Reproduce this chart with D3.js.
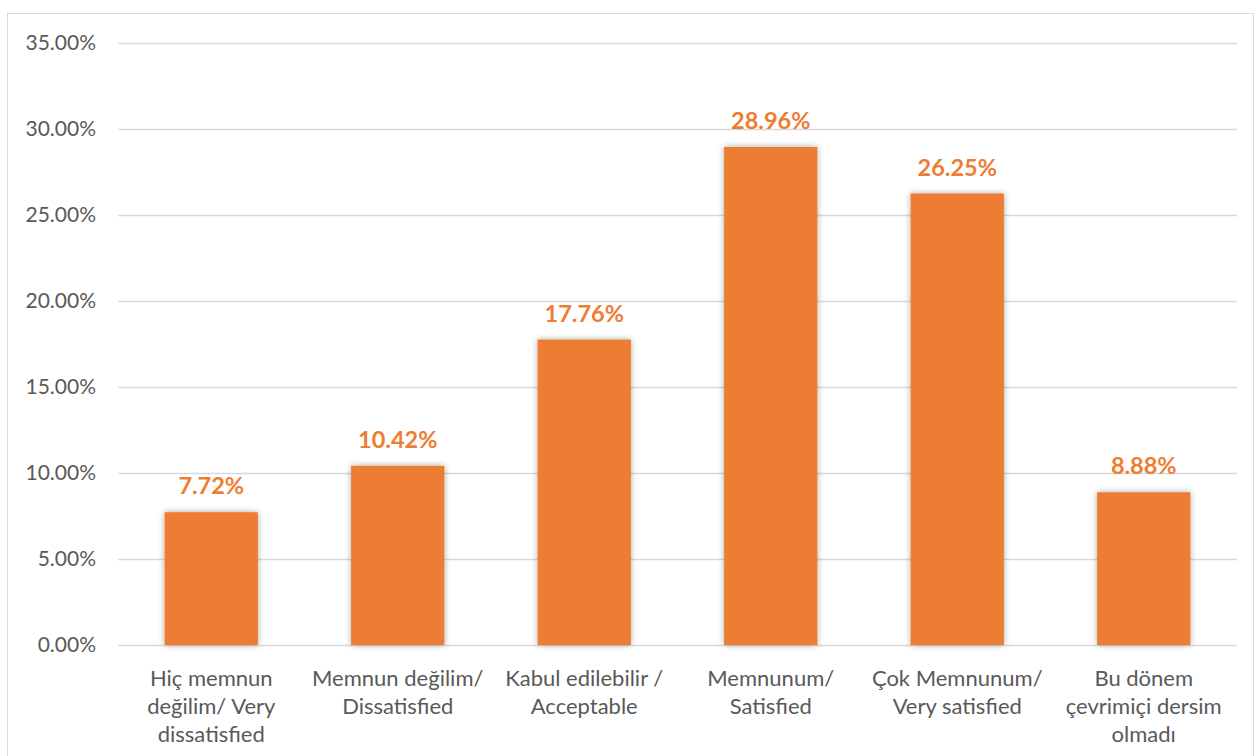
<!DOCTYPE html>
<html><head><meta charset="utf-8">
<script src="https://cdn.jsdelivr.net/npm/d3@7"></script>
<style>body{margin:0;background:#fff;} svg{display:block;}</style>
</head><body>
<svg id="c" width="1255" height="756"></svg>
<script>
const categories = [
  ["Hiç memnun", "değilim/ Very", "dissatisfied"],
  ["Memnun değilim/", "Dissatisfied"],
  ["Kabul edilebilir /", "Acceptable"],
  ["Memnunum/", "Satisfied"],
  ["Çok Memnunum/", "Very satisfied"],
  ["Bu dönem", "çevrimiçi dersim", "olmadı"]
];
const values = [7.72, 10.42, 17.76, 28.96, 26.25, 8.88];
const yTicks = [0, 5, 10, 15, 20, 25, 30, 35];

(function () {
const svg = d3.select("#c");
const font = "Lato, 'Open Sans', sans-serif";
const pLeft = 118, pRight = 1237, pTop = 43, pBottom = 645;

svg.append("rect").attr("x", 7.5).attr("y", 13.5).attr("width", 1246).attr("height", 750)
  .attr("fill", "#fff").attr("stroke", "#d9d9d9").attr("stroke-width", 1);

const defs = svg.append("defs");
const f = defs.append("filter").attr("id", "sh").attr("x", "-20%").attr("y", "-10%").attr("width", "140%").attr("height", "120%");
f.append("feGaussianBlur").attr("in", "SourceAlpha").attr("stdDeviation", 3).attr("result", "b");
f.append("feComponentTransfer").attr("in", "b").attr("result", "t")
  .append("feFuncA").attr("type", "linear").attr("slope", 0.35);
const m = f.append("feMerge");
m.append("feMergeNode").attr("in", "t");
m.append("feMergeNode").attr("in", "SourceGraphic");

const x = d3.scaleBand().domain(d3.range(categories.length)).range([pLeft, pRight]).paddingInner(0.5).paddingOuter(0.25);
const y = d3.scaleLinear().domain([0, 35]).range([pBottom, pTop]);

svg.append("g").selectAll("line").data(yTicks).join("line")
  .attr("x1", pLeft).attr("x2", pRight)
  .attr("y1", d => Math.round(y(d)) + 0.5).attr("y2", d => Math.round(y(d)) + 0.5)
  .attr("stroke", "#d9d9d9").attr("stroke-width", 1.3);

svg.append("g").selectAll("text").data(yTicks).join("text")
  .attr("x", 96).attr("y", d => y(d)).attr("dy", "0.35em")
  .attr("text-anchor", "end").attr("font-family", font).attr("font-size", 21).attr("fill", "#595959")
  .text(d => d.toFixed(2) + "%");

svg.append("g").selectAll("rect").data(values).join("rect")
  .attr("x", (d, i) => x(i)).attr("width", x.bandwidth())
  .attr("y", d => y(d)).attr("height", d => y(0) - y(d))
  .attr("fill", "#ED7D31").attr("filter", "url(#sh)");

svg.append("g").selectAll("text").data(values).join("text")
  .attr("x", (d, i) => x(i) + x.bandwidth() / 2).attr("y", d => y(d) - 18)
  .attr("text-anchor", "middle").attr("font-family", font).attr("font-size", 23.5).attr("font-weight", "bold")
  .attr("fill", "#ED7D31").text(d => d.toFixed(2) + "%");

const cg = svg.append("g").selectAll("text").data(categories).join("text")
  .attr("x", (d, i) => x(i) + x.bandwidth() / 2).attr("y", 686)
  .attr("text-anchor", "middle").attr("font-family", font).attr("font-size", 22).attr("fill", "#595959");
cg.selectAll("tspan").data(d => d).join("tspan")
  .attr("x", function() { return d3.select(this.parentNode).attr("x"); })
  .attr("dy", (d, i) => i === 0 ? 0 : 28).text(d => d);
})();
</script>
</body></html>
